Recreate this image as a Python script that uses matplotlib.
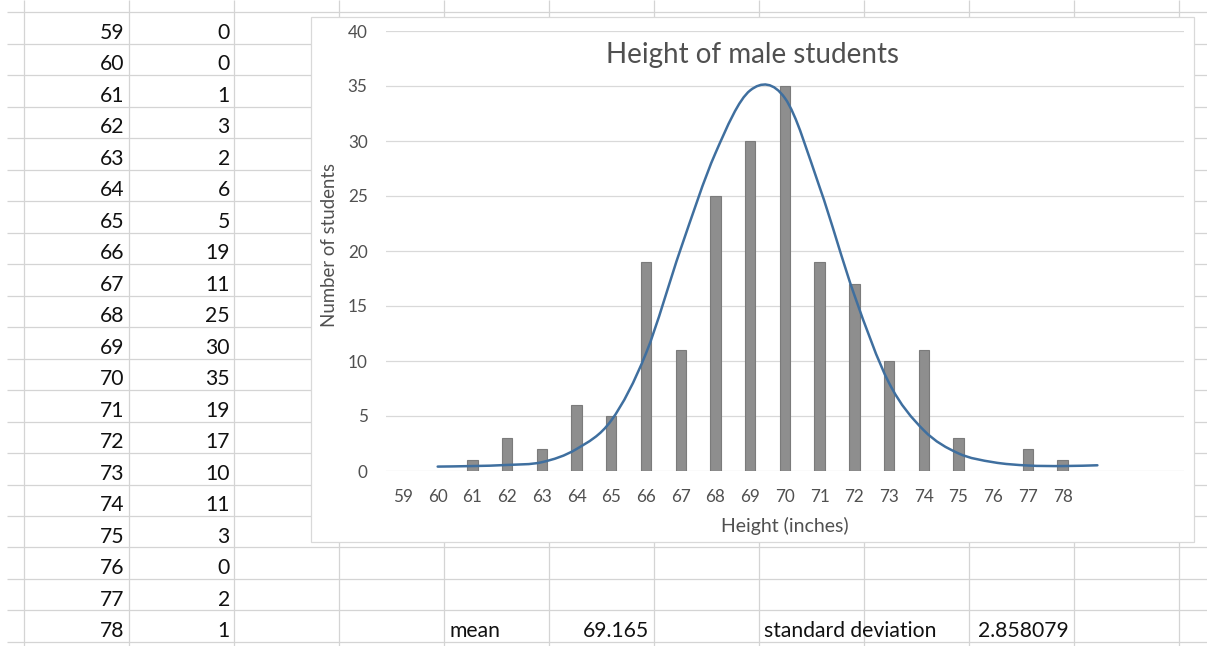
import matplotlib
matplotlib.use("Agg")
import matplotlib.pyplot as plt
from matplotlib.path import Path
from matplotlib.patches import PathPatch, Rectangle

plt.rcParams['font.family'] = ['Lato', 'DejaVu Sans']

# Worksheet data: height (inches) and number of students
heights = [59, 60, 61, 62, 63, 64, 65, 66, 67, 68, 69, 70, 71, 72, 73, 74, 75, 76, 77, 78]
counts = [0, 0, 1, 3, 2, 6, 5, 19, 11, 25, 30, 35, 19, 17, 10, 11, 3, 0, 2, 1]

# Fitted curve series (smoothed line)
curve_x = [60, 61, 62, 63, 64, 65, 66, 67, 68, 69, 70, 71, 72, 73, 74, 75, 76, 77, 78, 79]
curve_y = [0.4, 0.45, 0.55, 0.8, 2.0, 4.6, 10.7, 20.2, 28.9, 34.6, 33.9, 25.8, 16.0,
           8.0, 3.7, 1.6, 0.8, 0.5, 0.45, 0.52]

summary_labels = ["mean", "standard deviation"]
summary_values = ["69.165", "2.858079"]

title = "Height of male students"
x_title = "Height (inches)"
y_title = "Number of students"

W, H = 1207, 646
fig = plt.figure(figsize=(W / 100, H / 100), dpi=100)

# ---- spreadsheet background (pixel coordinates) ----
bg = fig.add_axes([0, 0, 1, 1])
bg.set_xlim(0, W)
bg.set_ylim(H, 0)
bg.axis('off')

grid_c = '#d4d4d4'
col_x = [24.3 + 105 * k for k in range(12)]
row_y = [12.3 + 31.48 * k for k in range(21)]
bg.vlines(col_x, 0, H, color=grid_c, lw=0.9, zorder=1)
bg.hlines(row_y, 7, W, color=grid_c, lw=0.9, zorder=1)

cell_fs = 15.2
cell_c = '#111111'
for k, (h, c) in enumerate(zip(heights, counts)):
    base = row_y[k + 1] - 4.8
    bg.text(col_x[1] - 5, base, str(h), ha='right', va='baseline', fontsize=cell_fs, color=cell_c)
    bg.text(col_x[2] - 4.5, base, str(c), ha='right', va='baseline', fontsize=cell_fs, color=cell_c)

last_base = row_y[20] - 4.8
bg.text(col_x[4] + 5, last_base, summary_labels[0], ha='left', va='baseline', fontsize=cell_fs, color=cell_c)
bg.text(col_x[6] - 5.5, last_base, summary_values[0], ha='right', va='baseline', fontsize=cell_fs, color=cell_c)
bg.text(col_x[7] + 5, last_base, summary_labels[1], ha='left', va='baseline', fontsize=cell_fs, color=cell_c)
bg.text(col_x[10] - 5.5, last_base, summary_values[1], ha='right', va='baseline', fontsize=cell_fs, color=cell_c)

# chart frame
bg.add_patch(Rectangle((311, 17.3), 883, 525, facecolor='white', edgecolor='#d9d9d9',
                       lw=0.9, zorder=3))

# ---- chart ----
ax_left, ax_right, ax_top, ax_bottom = 385.6, 1184.2, 31.0, 471.0
ax = fig.add_axes([ax_left / W, (H - ax_bottom) / H,
                   (ax_right - ax_left) / W, (ax_bottom - ax_top) / H])
ax.patch.set_alpha(0)
ax.set_zorder(5)
for s in ax.spines.values():
    s.set_visible(False)

ax.set_xlim(58.5, 81.5)
ax.set_ylim(0, 40)
ax.set_xticks(heights)
ax.set_xticklabels([str(h) for h in heights])
ax.set_yticks(range(0, 41, 5))
txt_c = '#505050'
ax.tick_params(axis='both', length=0, labelsize=12.3, labelcolor=txt_c)
ax.tick_params(axis='y', pad=12.9)
ax.tick_params(axis='x', pad=12.8)
ax.yaxis.grid(True, color='#d9d9d9', lw=0.9)
ax.set_axisbelow(True)

edges = ['#7b7b7b' if c > 0 else 'none' for c in counts]
ax.bar(heights, counts, width=0.3, color='#8e8e8e', edgecolor=edges, linewidth=0.8, zorder=2)

# smoothed line: cubic Bezier segments through the points (Catmull-Rom control points)
pts = list(zip(curve_x, curve_y))
verts = [pts[0]]
codes = [Path.MOVETO]
n = len(pts)
for i in range(n - 1):
    p0 = pts[i - 1] if i > 0 else pts[i]
    p1 = pts[i]
    p2 = pts[i + 1]
    p3 = pts[i + 2] if i + 2 < n else pts[i + 1]
    c1 = (p1[0] + (p2[0] - p0[0]) / 6, p1[1] + (p2[1] - p0[1]) / 6)
    c2 = (p2[0] - (p3[0] - p1[0]) / 6, p2[1] - (p3[1] - p1[1]) / 6)
    verts += [c1, c2, p2]
    codes += [Path.CURVE4] * 3
ax.add_patch(PathPatch(Path(verts, codes), facecolor='none', edgecolor='#3f6f9f',
                       lw=1.8, capstyle='round', zorder=3))

px = lambda x: (x - ax_left) / (ax_right - ax_left)
py = lambda y: (ax_bottom - y) / (ax_bottom - ax_top)

ax.text(px(752.5), py(62.7), title, transform=ax.transAxes, ha='center', va='baseline',
        fontsize=20.0, color=txt_c)
ax.text(px(785), py(531.7), x_title, transform=ax.transAxes, ha='center', va='baseline',
        fontsize=14.0, color=txt_c)
ax.text(px(335), py(245), y_title, transform=ax.transAxes, ha='center', va='baseline',
        rotation=90, rotation_mode='anchor', fontsize=13.4, color=txt_c)

fig.savefig('out.png', dpi=100)
